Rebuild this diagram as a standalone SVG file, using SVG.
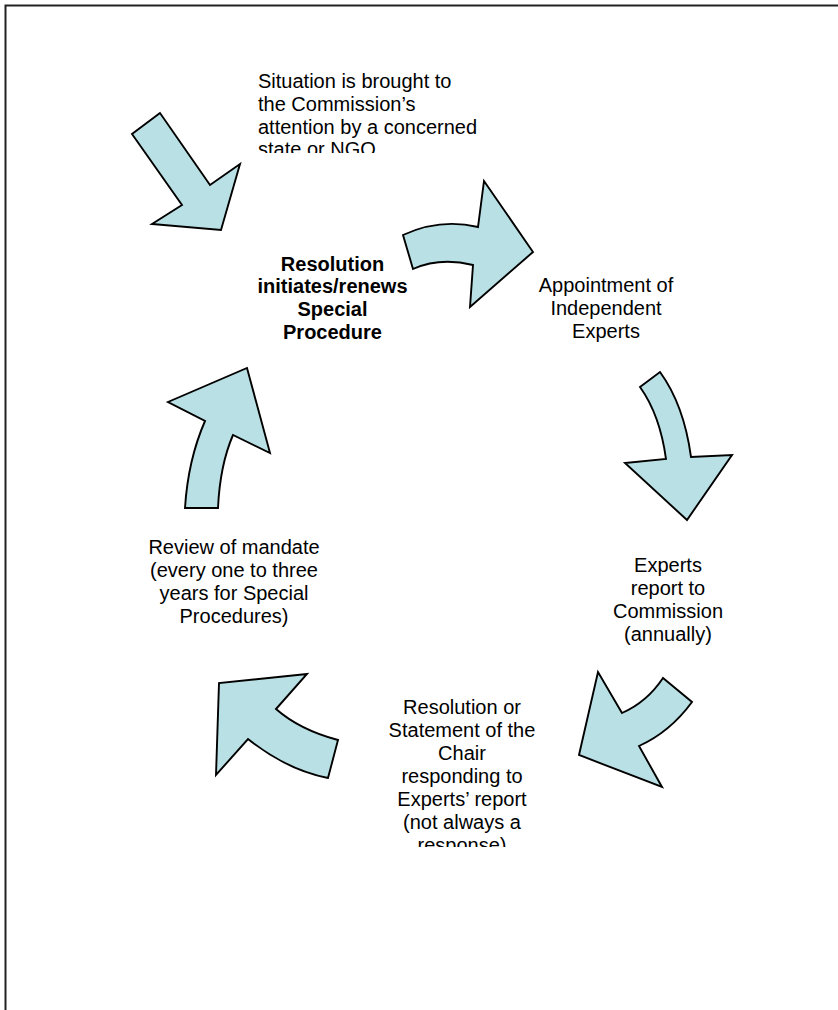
<svg xmlns="http://www.w3.org/2000/svg" width="838" height="1010" viewBox="0 0 838 1010">
<defs>
<style>
.arrow{fill:#B9E0E4;stroke:#000;stroke-width:1.9;stroke-linejoin:miter}
.t{font-family:"Liberation Sans",Arial,sans-serif;font-size:20px;fill:#000;text-anchor:middle}
.b{font-weight:bold}
</style>
<clipPath id="c1"><rect x="200" y="60" width="320" height="93"/></clipPath>
<clipPath id="c2"><rect x="360" y="680" width="210" height="167"/></clipPath>
</defs>
<rect width="838" height="1010" fill="#fff"/>
<path d="M5.5,1010 V5.5 H838" fill="none" stroke="#222" stroke-width="2"/>
<g id="connectors">
<path class="arrow" d="M160,113 L132,134 L182,205 L152,224 L221,230 L240,164 L210,185 Z"/>
<path class="arrow" d="M403,235 Q440,218 478,227 L484,181 L533,252 L470,307 L473,265 Q440,257 413,269 Z"/>
<path class="arrow" d="M640,387 L660,372 Q684,405 691,457 L732,455 L687,520 L625,463 L666,459 Q660,415 640,387 Z"/>
<path class="arrow" d="M663,678 L692,702 Q670,732 639,746 L662,787 L579,755 L598,672 L622,713 Q647,702 663,678 Z"/>
<path class="arrow" d="M307,674 L219,683 L216,775 L248,739 Q287,770 328,778 L338,740 Q300,730 276,709 Z"/>
<path class="arrow" d="M185,508 L218,508 Q220,465 233,435 L270,453 L247,368 L168,402 L205,421 Q188,460 185,508 Z"/>
</g>
<g id="n-situation" clip-path="url(#c1)">
<text class="t" style="text-anchor:start"><tspan x="258" y="88">Situation is brought to</tspan><tspan x="258" y="110.8">the Commission’s</tspan><tspan x="258" y="133.6">attention by a concerned</tspan><tspan x="258" y="156.4">state or NGO</tspan></text>
</g>
<g id="n-resolution">
<text class="t b"><tspan x="332.5" y="270.5">Resolution</tspan><tspan x="332.5" y="293.3">initiates/renews</tspan><tspan x="332.5" y="316.1">Special</tspan><tspan x="332.5" y="338.9">Procedure</tspan></text>
</g>
<g id="n-appointment">
<text class="t"><tspan x="606" y="292">Appointment of</tspan><tspan x="606" y="315">Independent</tspan><tspan x="606" y="338">Experts</tspan></text>
</g>
<g id="n-report">
<text class="t"><tspan x="668" y="572">Experts</tspan><tspan x="668" y="595">report to</tspan><tspan x="668" y="618">Commission</tspan><tspan x="668" y="641">(annually)</tspan></text>
</g>
<g id="n-statement" clip-path="url(#c2)">
<text class="t"><tspan x="462" y="714">Resolution or</tspan><tspan x="462" y="737">Statement of the</tspan><tspan x="462" y="760">Chair</tspan><tspan x="462" y="783">responding to</tspan><tspan x="462" y="806">Experts’ report</tspan><tspan x="462" y="829">(not always a</tspan><tspan x="462" y="852">response)</tspan></text>
</g>
<g id="n-review">
<text class="t"><tspan x="234" y="554">Review of mandate</tspan><tspan x="234" y="577">(every one to three</tspan><tspan x="234" y="600">years for Special</tspan><tspan x="234" y="623">Procedures)</tspan></text>
</g>
</svg>
